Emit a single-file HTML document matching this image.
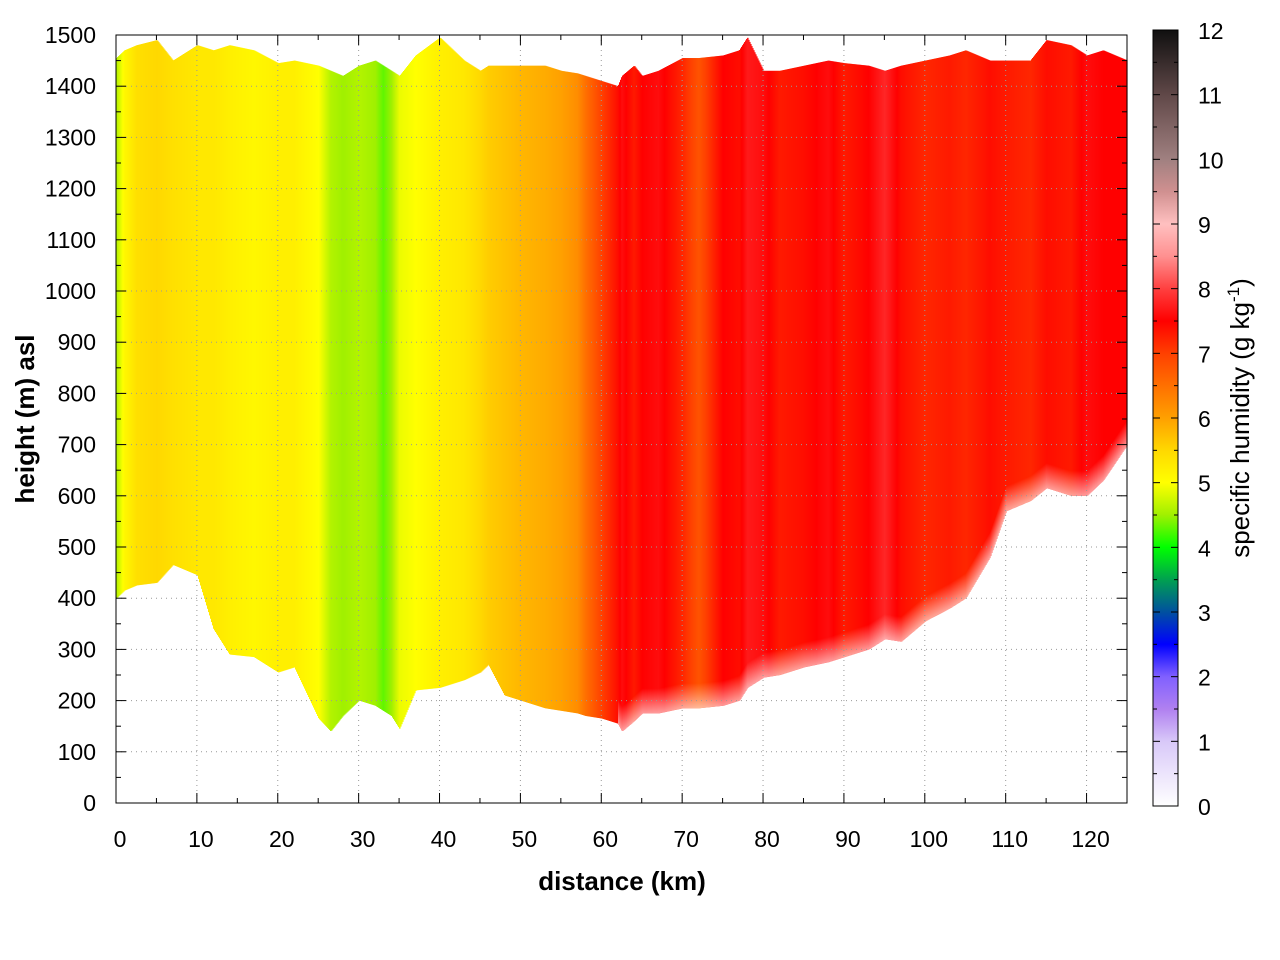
<!DOCTYPE html>
<html><head><meta charset="utf-8"><style>
body{margin:0;background:#fff;}
svg{display:block;font-family:"Liberation Sans",sans-serif;}
</style></head><body>
<svg id="chart" width="1280" height="960">
<g id="plot"></g>
<g id="grid"></g>
<rect x="116" y="35" width="1011" height="768" fill="none" stroke="#000" stroke-width="1"/>
<g id="axes"></g>
<text x="622" y="890" text-anchor="middle" font-size="26" font-weight="bold">distance (km)</text>
<text transform="translate(34,419) rotate(-90)" text-anchor="middle" font-size="26" font-weight="bold">height (m) asl</text>
<defs><linearGradient id="cbg" x1="0" y1="1" x2="0" y2="0"></linearGradient></defs>
<rect x="1153" y="30" width="25" height="776" fill="url(#cbg)" stroke="#000"/>
<g id="cbaxis"></g>
<text transform="translate(1249,418) rotate(-90)" text-anchor="middle" font-size="26">specific humidity (g kg<tspan dy="-10" font-size="17">-1</tspan><tspan dy="10">)</tspan></text>
</svg>
<script>
const distances=[0,1,2.5,5,7,10,12,14,17,20,22,25,26.5,28,30,32,33,34,35,37,40,43,45,46,48,50,53,55,57,58,60,62,62.5,64,65,67,70,72,75,77,78,80,82,85,88,90,93,95,97,100,103,105,108,110,113,115,118,120,122,125];
const bottoms=[400,415,425,430,465,445,340,290,285,255,265,165,140,170,200,190,180,170,145,220,225,240,255,270,210,200,185,180,175,170,165,155,140,160,175,175,185,185,190,200,225,245,250,265,275,285,300,320,315,355,380,400,480,570,590,615,600,600,630,700];
const tops=[1455,1470,1480,1490,1450,1480,1470,1480,1470,1445,1450,1440,1430,1420,1440,1450,1440,1430,1420,1460,1495,1450,1430,1440,1440,1440,1440,1430,1425,1420,1410,1400,1420,1440,1420,1430,1455,1455,1460,1470,1495,1430,1430,1440,1450,1445,1440,1430,1440,1450,1460,1470,1450,1450,1450,1490,1480,1460,1470,1450];
const humidity=[4.6,5.1,5.4,5.5,5.4,5.3,5.3,5.2,5.1,5.2,5.2,5.0,4.6,4.5,4.6,4.5,4.3,4.5,4.9,5.0,5.2,5.3,5.5,5.6,5.7,5.8,5.9,6.0,6.2,6.5,7.0,7.4,7.6,7.3,7.5,7.6,7.2,6.8,7.5,7.4,7.7,7.6,7.3,7.4,7.6,7.3,7.5,7.8,7.4,7.2,7.3,7.2,7.4,7.3,7.2,7.4,7.3,7.6,7.5,7.5];
const xTicks=[0,10,20,30,40,50,60,70,80,90,100,110,120];
const yTicks=[0,100,200,300,400,500,600,700,800,900,1000,1100,1200,1300,1400,1500];
const cbTicks=[0,1,2,3,4,5,6,7,8,9,10,11,12];
const cmapStops=[[0,[255,255,255]],[1,[216,200,248]],[1.5,[176,128,240]],[2,[128,96,255]],[2.5,[0,0,255]],[3,[0,80,160]],[3.5,[0,160,80]],[4,[0,255,0]],[4.5,[160,240,0]],[5,[255,255,0]],[5.5,[255,216,0]],[6,[255,160,0]],[6.5,[255,112,0]],[7,[255,64,0]],[7.5,[255,0,0]],[8,[255,64,64]],[8.5,[255,144,144]],[9,[255,192,192]],[9.5,[208,144,144]],[10,[160,128,128]],[11,[96,72,72]],[12,[16,16,16]]];
const NS="http://www.w3.org/2000/svg";
const xS=d=>116+d*1011/125, yS=h=>803-h*768/1500, cbY=v=>806-v*776/12;
function cmap(v){for(let i=1;i<cmapStops.length;i++){const [a,ca]=cmapStops[i-1],[b,cb]=cmapStops[i];if(v<=b){const t=Math.max(0,(v-a)/(b-a));return `rgb(${ca.map((c,k)=>Math.round(c+(cb[k]-c)*t)).join(',')})`;}}return 'rgb(16,16,16)';}
function interp(arr,d){for(let i=1;i<distances.length;i++){if(d<=distances[i]){const t=(d-distances[i-1])/(distances[i]-distances[i-1]);return arr[i-1]+(arr[i]-arr[i-1])*t;}}return arr[arr.length-1];}
function el(tag,attrs,parent){const e=document.createElementNS(NS,tag);for(const k in attrs)e.setAttribute(k,attrs[k]);parent.appendChild(e);return e;}
const plot=document.getElementById('plot');
const defs=document.querySelector('defs');
const fade=el('linearGradient',{id:'fade',x1:0,y1:1,x2:0,y2:0},defs);
el('stop',{offset:0,'stop-color':'#fff','stop-opacity':0.6},fade);
el('stop',{offset:1,'stop-color':'#fff','stop-opacity':0},fade);
for(let px=0;px<1011;px++){
  const d=px*125/1011;
  const b=interp(bottoms,d),t=Math.min(1500,interp(tops,d)),q=interp(humidity,d);
  const r=el('rect',{x:116+px,y:yS(t),width:1.6,height:yS(b)-yS(t),fill:cmap(q)},plot);
  
  
  if(d>62){const f=el('rect',{x:116+px,y:yS(b)-25,width:1.6,height:25,fill:'url(#fade)'},plot);
    
    }
}
const grid=document.getElementById('grid'),axes=document.getElementById('axes');
xTicks.forEach((v,i)=>{const x=xS(v);
  if(i>0){const g=el('line',{x1:x,x2:x,y1:35,y2:803,stroke:'#999','stroke-dasharray':'1,4','stroke-width':1},grid);}
  el('line',{x1:x,x2:x,y1:803,y2:793,stroke:'#000'},axes);el('line',{x1:x,x2:x,y1:35,y2:45,stroke:'#000'},axes);
  const tx=el('text',{x:x+4,y:847,'text-anchor':'middle','font-size':23},axes);tx.textContent=v;
  
  const mx=xS(v+5);if(v+5<125){el('line',{x1:mx,x2:mx,y1:803,y2:798,stroke:'#000'},axes);el('line',{x1:mx,x2:mx,y1:35,y2:40,stroke:'#000'},axes);}
});
yTicks.forEach((v,i)=>{const y=yS(v);
  if(i>0&&i<yTicks.length-1){const g=el('line',{x1:116,x2:1127,y1:y,y2:y,stroke:'#999','stroke-dasharray':'1,4'},grid);}
  el('line',{x1:116,x2:126,y1:y,y2:y,stroke:'#000'},axes);el('line',{x1:1117,x2:1127,y1:y,y2:y,stroke:'#000'},axes);
  if(v<1500){const my=yS(v+50);el('line',{x1:116,x2:121,y1:my,y2:my,stroke:'#000'},axes);el('line',{x1:1122,x2:1127,y1:my,y2:my,stroke:'#000'},axes);}
  const tx=el('text',{x:96,y:y+8,'text-anchor':'end','font-size':23},axes);tx.textContent=v;
  
});
const cbg=document.getElementById('cbg');
for(let v=0;v<=12;v+=0.25){el('stop',{offset:v/12,'stop-color':cmap(v)},cbg);}
const cba=document.getElementById('cbaxis');
cbTicks.forEach(v=>{const y=cbY(v);
  el('line',{x1:1153,x2:1160,y1:y,y2:y,stroke:'#000'},cba);el('line',{x1:1171,x2:1178,y1:y,y2:y,stroke:'#000'},cba);
  if(v<12){const my=cbY(v+0.5);el('line',{x1:1153,x2:1157,y1:my,y2:my,stroke:'#000'},cba);el('line',{x1:1174,x2:1178,y1:my,y2:my,stroke:'#000'},cba);}
  const tx=el('text',{x:1198,y:y+9,'font-size':23},cba);tx.textContent=v;
  
});
</script>
</body></html>
